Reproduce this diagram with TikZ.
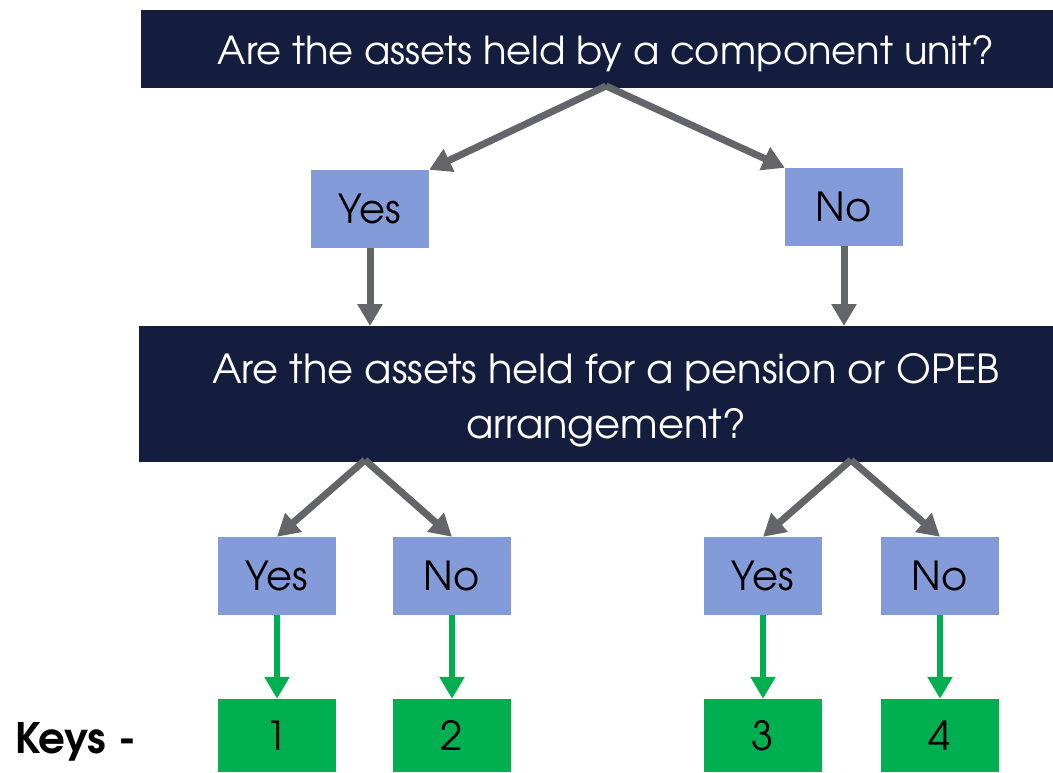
\documentclass[tikz,border=0pt]{standalone}
\usepackage{fontspec}
\setmainfont{TeX Gyre Adventor}
\usetikzlibrary{arrows.meta}
\definecolor{navy}{HTML}{141D3E}
\definecolor{lblue}{HTML}{839CD9}
\definecolor{kgreen}{HTML}{00B050}
\definecolor{agray}{HTML}{646569}
\tikzset{
  ansbox/.style={fill=lblue, draw=none, inner sep=0pt, minimum width=118pt, minimum height=78pt, font=\fontsize{40}{42}\selectfont},
  keybox/.style={fill=kgreen, draw=none, inner sep=0pt, minimum width=118pt, minimum height=73pt, font=\fontsize{40}{42}\selectfont},
  garrow/.style={draw=agray, line width=7pt, -{Triangle[length=22pt,width=24pt]}},
  karrow/.style={draw=kgreen, line width=6pt, -{Triangle[length=22pt,width=24pt]}},
}
\begin{document}
\begin{tikzpicture}[x=1pt,y=-1pt]
\useasboundingbox (0,0) rectangle (1053,773);
% question boxes
\fill[navy] (141,10) rectangle (1053,88);
\node[text=white, font=\fontsize{38.5}{52}\selectfont, anchor=base] (q1) at (606,65) {Are the assets held by a component unit?};
\fill[navy] (139,326) rectangle (1053,462);
\node[text=white, font=\fontsize{40}{55}\selectfont, align=center, anchor=base] (q2) at (606,438) {Are the assets held for a pension or OPEB\\arrangement?};
\coordinate (q1b) at (606,86);
\coordinate (q2l) at (365,460);
\coordinate (q2r) at (851,460);
\coordinate (q2tl) at (370,326);
\coordinate (q2tr) at (844,326);
% answer boxes
\node[ansbox] (y1) at (370,209) {Yes};
\node[ansbox] (n1) at (844,207) {No};
\node[ansbox] (y2) at (277,576) {Yes};
\node[ansbox] (n2) at (452,576) {No};
\node[ansbox] (y3) at (763,576) {Yes};
\node[ansbox] (n3) at (940,576) {No};
% keys
\node[keybox] (k1) at (277,735.5) {1};
\node[keybox] (k2) at (452,735.5) {2};
\node[keybox] (k3) at (763,735.5) {3};
\node[keybox] (k4) at (940,735.5) {4};
\node[font=\fontsize{42}{44}\selectfont\bfseries, anchor=base west, inner sep=0pt] (keys) at (15,753) {Keys -};
% arrows
\draw[garrow] (q1b) -- (y1.north east);
\draw[garrow] (q1b) -- (n1.north west);
\draw[garrow] (y1.south) -- (q2tl);
\draw[garrow] (n1.south) -- (q2tr);
\draw[garrow] (q2l) -- (y2.north);
\draw[garrow] (q2l) -- (n2.north);
\draw[garrow] (q2r) -- (y3.north);
\draw[garrow] (q2r) -- (n3.north);
\draw[karrow] (y2.south) -- (k1.north);
\draw[karrow] (n2.south) -- (k2.north);
\draw[karrow] (y3.south) -- (k3.north);
\draw[karrow] (n3.south) -- (k4.north);
\end{tikzpicture}
\end{document}
